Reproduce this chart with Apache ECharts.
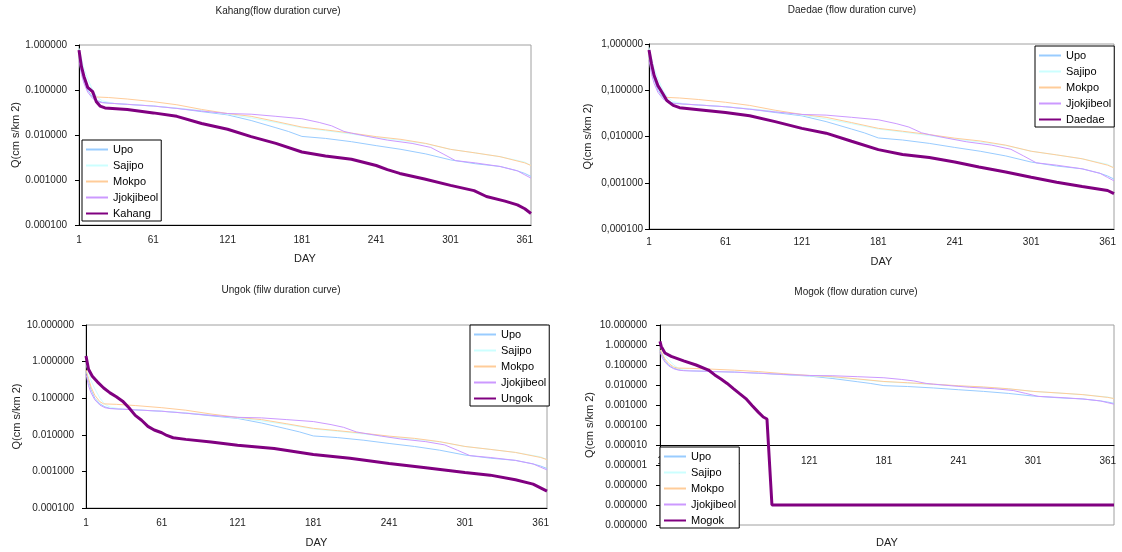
<!DOCTYPE html>
<html><head><meta charset="utf-8">
<script src="https://cdn.jsdelivr.net/npm/echarts@6/dist/echarts.min.js"></script>
<style>html,body{margin:0;padding:0;background:#fff}#c{width:1122px;height:552px}</style>
</head><body><div id="c"></div><script>
// ---- data: [day, Q (cms/km2)] ----
const upo = [[1,0.55],[3,0.3],[5,0.17],[8,0.1],[12,0.07],[16,0.058],[20,0.053],[30,0.05],[40,0.048],[61,0.044],[80,0.039],[100,0.033],[121,0.028],[140,0.021],[160,0.0145],[170,0.012],[181,0.0093],[200,0.0084],[221,0.0071],[241,0.0058],[261,0.0048],[281,0.0038],[301,0.0028],[321,0.0023],[341,0.002],[355,0.0016],[361,0.0014],[366,0.0012]];
const sajipo = [[1,0.85],[3,0.5],[5,0.3],[8,0.18],[12,0.1],[16,0.068],[20,0.057],[30,0.05],[40,0.048],[61,0.044],[80,0.04],[100,0.035],[121,0.029],[140,0.024],[160,0.019],[181,0.0145],[200,0.0125],[221,0.0105],[241,0.0088],[261,0.0076],[281,0.0064],[301,0.0048],[321,0.004],[341,0.0033],[361,0.0025],[366,0.0021]];
const mokpo = [[1,0.6],[3,0.35],[5,0.2],[8,0.12],[12,0.08],[15,0.07],[25,0.068],[40,0.063],[61,0.055],[80,0.047],[100,0.037],[121,0.03],[140,0.026],[160,0.02],[181,0.015],[200,0.013],[221,0.011],[241,0.0092],[261,0.008],[281,0.0065],[301,0.0048],[321,0.004],[341,0.0033],[361,0.0024],[366,0.0021]];
const jjokjibeol = [[1,0.45],[3,0.22],[5,0.14],[8,0.09],[12,0.065],[16,0.055],[20,0.052],[30,0.05],[40,0.048],[61,0.044],[80,0.039],[100,0.034],[121,0.03],[140,0.029],[160,0.026],[181,0.023],[195,0.019],[205,0.016],[215,0.012],[221,0.011],[235,0.0092],[250,0.0077],[270,0.0065],[285,0.0053],[295,0.0038],[305,0.0027],[321,0.0024],[341,0.002],[355,0.0016],[361,0.0013],[366,0.0011]];
const kahang = [[1,0.77],[3,0.33],[5,0.2],[8,0.115],[12,0.092],[15,0.055],[18,0.044],[22,0.04],[40,0.037],[61,0.031],[80,0.026],[100,0.018],[121,0.0134],[140,0.0092],[160,0.0065],[181,0.0042],[200,0.0034],[221,0.0029],[241,0.0021],[250,0.0017],[260,0.0014],[280,0.00105],[301,0.00076],[320,0.00058],[330,0.00043],[345,0.00034],[355,0.00028],[361,0.00023],[366,0.00018]];
const daedae = [[1,0.74],[3,0.37],[5,0.21],[8,0.126],[12,0.083],[15,0.06],[20,0.047],[25,0.042],[40,0.038],[61,0.033],[80,0.028],[100,0.021],[121,0.015],[140,0.0118],[160,0.0079],[181,0.0052],[200,0.0041],[221,0.0035],[241,0.0028],[260,0.0022],[281,0.0017],[301,0.00132],[321,0.00103],[341,0.00083],[361,0.00068],[366,0.00058]];
const ungok = [[1,1.43],[3,0.62],[6,0.4],[10,0.28],[15,0.19],[20,0.14],[25,0.11],[30,0.083],[35,0.055],[40,0.034],[45,0.025],[50,0.017],[55,0.0135],[61,0.0114],[65,0.0096],[70,0.0083],[80,0.0075],[100,0.0064],[121,0.0052],[150,0.0042],[181,0.0029],[210,0.0023],[241,0.00165],[270,0.00126],[301,0.00093],[321,0.00079],[341,0.00059],[355,0.00045],[366,0.00029]];
const mogok = [[1,1.5],[2,0.85],[5,0.4],[10,0.27],[20,0.16],[30,0.1],[40,0.056],[45,0.032],[50,0.02],[55,0.012],[60,0.0066],[65,0.0037],[70,0.0021],[75,0.00095],[80,0.00044],[84,0.00025],[87,0.0002],[88,0.00018],[91,1e-8],[366,1e-8]];
const refNames = ['Upo','Sajipo','Mokpo','Jjokjibeol'];
const refData = [upo, sajipo, mokpo, jjokjibeol];
const xTickLabels = ['1','61','121','181','241','301','361'];

// ---- layout / style ----
const refColors = ['#99ccff','#ccffff','#ffcc99','#cc99ff'];
const mainColor = '#800080';
const FONT = 'Liberation Sans, Arial, sans-serif';
const panels = [
  {title:'Kahang(flow duration curve)', name:'Kahang', data:kahang, grid:{left:79,top:45,width:452,height:180}, yMin:1e-4, yMax:1, split:4, comma:false,
   tx:278, ty:6, legend:{left:82,top:140}, yLabelMargin:12, yNameGap:58, xLabelMargin:10, dayGap:28, xOffset:0},
  {title:'Daedae (flow duration curve)', name:'Daedae', data:daedae, grid:{left:649,top:44,width:465,height:185}, yMin:1e-4, yMax:1, split:4, comma:true,
   tx:852, ty:5, legend:{left:1035,top:46}, yLabelMargin:6, yNameGap:56, xLabelMargin:8, dayGap:27, xOffset:0},
  {title:'Ungok (filw duration curve)', name:'Ungok', data:ungok, grid:{left:86,top:325,width:461,height:183}, yMin:1e-4, yMax:10, split:5, comma:false,
   tx:281, ty:285, legend:{left:470,top:325}, yLabelMargin:12, yNameGap:64, xLabelMargin:10, dayGap:29, xOffset:0},
  {title:'Mogok (flow duration curve)', name:'Mogok', data:mogok, grid:{left:660,top:325,width:454,height:200}, yMin:1e-9, yMax:10, split:10, comma:false,
   tx:856, ty:287, legend:{left:660,top:447}, yLabelMargin:13, yNameGap:65, xLabelMargin:11, dayGap:92, xOffset:-80}
];

const option = {animation:false, backgroundColor:'#fff', title:[], grid:[], xAxis:[], yAxis:[], legend:[], series:[]};
panels.forEach((p,i)=>{
  option.title.push({text:p.title, left:p.tx, top:p.ty, textAlign:'center', padding:0,
    textStyle:{fontFamily:FONT, fontSize:10, fontWeight:'normal', color:'#222'}});
  option.grid.push(Object.assign({show:true, borderColor:'#a0a0a0', borderWidth:1, backgroundColor:'#fff', containLabel:false}, p.grid));
  option.xAxis.push({gridIndex:i, type:'value', min:0, max:365, interval:60, offset:p.xOffset,
    name:'DAY', nameLocation:'middle', nameGap:p.dayGap, nameTextStyle:{fontFamily:FONT, fontSize:11, color:'#222'},
    axisLine:{show:true, lineStyle:{color:'#000', width:1}}, axisTick:{show:false}, splitLine:{show:false},
    axisLabel:{fontFamily:FONT, fontSize:10, color:'#222', margin:p.xLabelMargin, showMaxLabel:false,
      formatter:v=>xTickLabels[Math.round(v/60)] || ''}});
  option.yAxis.push({gridIndex:i, type:'log', logBase:10, min:p.yMin, max:p.yMax, splitNumber:p.split,
    name:'Q(cm s/km 2)', nameLocation:'middle', nameGap:p.yNameGap, nameRotate:90,
    nameTextStyle:{fontFamily:FONT, fontSize:11, color:'#222'},
    axisLine:{show:true, lineStyle:{color:'#000', width:1}}, axisTick:{show:true, length:4, lineStyle:{color:'#000'}}, splitLine:{show:false},
    axisLabel:{fontFamily:FONT, fontSize:10, color:'#222', margin:p.yLabelMargin,
      formatter:v=>{let s=Number(v).toFixed(6); return p.comma? s.replace('.',','):s;}}});
  option.legend.push({orient:'vertical', left:p.legend.left, top:p.legend.top, data:refNames.concat([p.name]),
    backgroundColor:'#fff', borderColor:'#000', borderWidth:1, borderRadius:0, padding:[3,3,1,3], itemGap:3,
    itemWidth:22, itemHeight:13, selectedMode:false, itemStyle:{opacity:0, borderWidth:0},
    textStyle:{fontFamily:FONT, fontSize:11, color:'#000', lineHeight:13}});
  refNames.forEach((n,k)=>{
    option.series.push({name:n, type:'line', xAxisIndex:i, yAxisIndex:i, symbol:'none', showSymbol:false,
      color:refColors[k], lineStyle:{color:refColors[k], width:1}, data:refData[k].map(d=>[d[0]-1,d[1]])});
  });
  option.series.push({name:p.name, type:'line', xAxisIndex:i, yAxisIndex:i, symbol:'none', showSymbol:false,
    color:mainColor, lineStyle:{color:mainColor, width:3}, data:p.data.map(d=>[d[0]-1,d[1]])});
});
const chart = echarts.init(document.getElementById('c'), null, {renderer:'canvas'});
chart.setOption(option);
</script></body></html>
